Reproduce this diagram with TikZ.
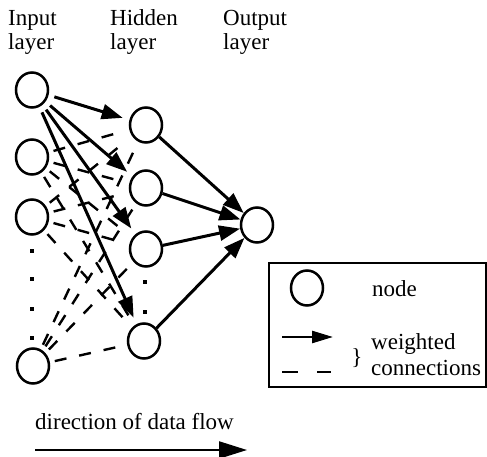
\documentclass[tikz,border=0pt]{standalone}
\usepackage{fontspec}
\setmainfont{Liberation Serif}
\usetikzlibrary{arrows.meta,shapes.geometric}
\tikzset{
  neuron/.style={ellipse,draw,line width=2.5pt,minimum width=32pt,minimum height=35pt,inner sep=0pt},
  lbl/.style={font=\fontsize{23}{26}\selectfont,inner sep=0pt,anchor=base west},
  wsolid/.style={line width=3pt,-{Triangle[length=21pt,width=15pt]}},
  wdash/.style={line width=2.4pt,dash pattern=on 12pt off 13pt},
  dotmark/.style={fill,inner sep=0pt,minimum size=4pt,rectangle}
}
\begin{document}
\begin{tikzpicture}[x=1pt,y=-1pt]
\useasboundingbox (0,0) rectangle (487,457);

% column headings
\node[lbl] (tIn1) at (8,26) {Input};
\node[lbl] (tIn2) at (8,50) {layer};
\node[lbl] (tHd1) at (110,26) {Hidden};
\node[lbl] (tHd2) at (110,50) {layer};
\node[lbl] (tOut1) at (223,26) {Output};
\node[lbl] (tOut2) at (223,50) {layer};

% input layer
\node[neuron] (i1) at (32,90) {};
\node[neuron] (i2) at (32,157) {};
\node[neuron] (i3) at (32,217) {};
\node[neuron] (i4) at (33,366) {};
\foreach \y [count=\k] in {251,279,309,338}
  \node[dotmark] (idot\k) at (32,\y) {};

% hidden layer
\node[neuron] (h1) at (146,125) {};
\node[neuron] (h2) at (146,188) {};
\node[neuron] (h3) at (146,249) {};
\node[neuron] (h4) at (144,341) {};
\foreach \y [count=\k] in {282,312}
  \node[dotmark] (hdot\k) at (145,\y) {};

% output layer
\node[neuron] (o) at (257,225) {};

% dashed weighted connections
\foreach \s in {i2,i3,i4}
  \foreach \t in {h1,h2,h3,h4}
    \draw[wdash,shorten <=5pt,shorten >=6pt] (\s) -- (\t);

% solid weighted connections
\foreach \t in {h1,h2,h3,h4}
  \draw[wsolid,shorten <=6pt,shorten >=7pt] (i1) -- (\t);
\foreach \s in {h1,h2,h3,h4}
  \draw[wsolid] (\s) -- (o);

% legend
\node[draw,line width=2pt,minimum width=217pt,minimum height=124pt,anchor=north west,inner sep=0pt] (legend) at (268,262) {};
\node[neuron] (lnode) at (307,288) {};
\node[lbl] (tnode) at (372,296) {node};
\coordinate (la1) at (282,337);
\coordinate (la2) at (333,337);
\draw[line width=2.5pt,-{Triangle[length=21pt,width=12pt]}] (la1) -- (la2);
\coordinate (ld1) at (282,372);
\coordinate (ld2) at (331,372);
\draw[line width=2.4pt,dash pattern=on 16pt off 19pt] (ld1) -- (ld2);
\node[font=\fontsize{23}{26}\selectfont,inner sep=0pt] (brace) at (357,358) {\}};
\node[lbl] (tw) at (371,349) {weighted};
\node[lbl] (tc) at (371,375) {connections};

% data flow direction
\node[lbl] (tflow) at (35,429) {direction of data flow};
\coordinate (f1) at (35,450);
\coordinate (f2) at (247,450);
\draw[line width=2.2pt,-{Triangle[length=28pt,width=17pt]}] (f1) -- (f2);
\end{tikzpicture}
\end{document}
